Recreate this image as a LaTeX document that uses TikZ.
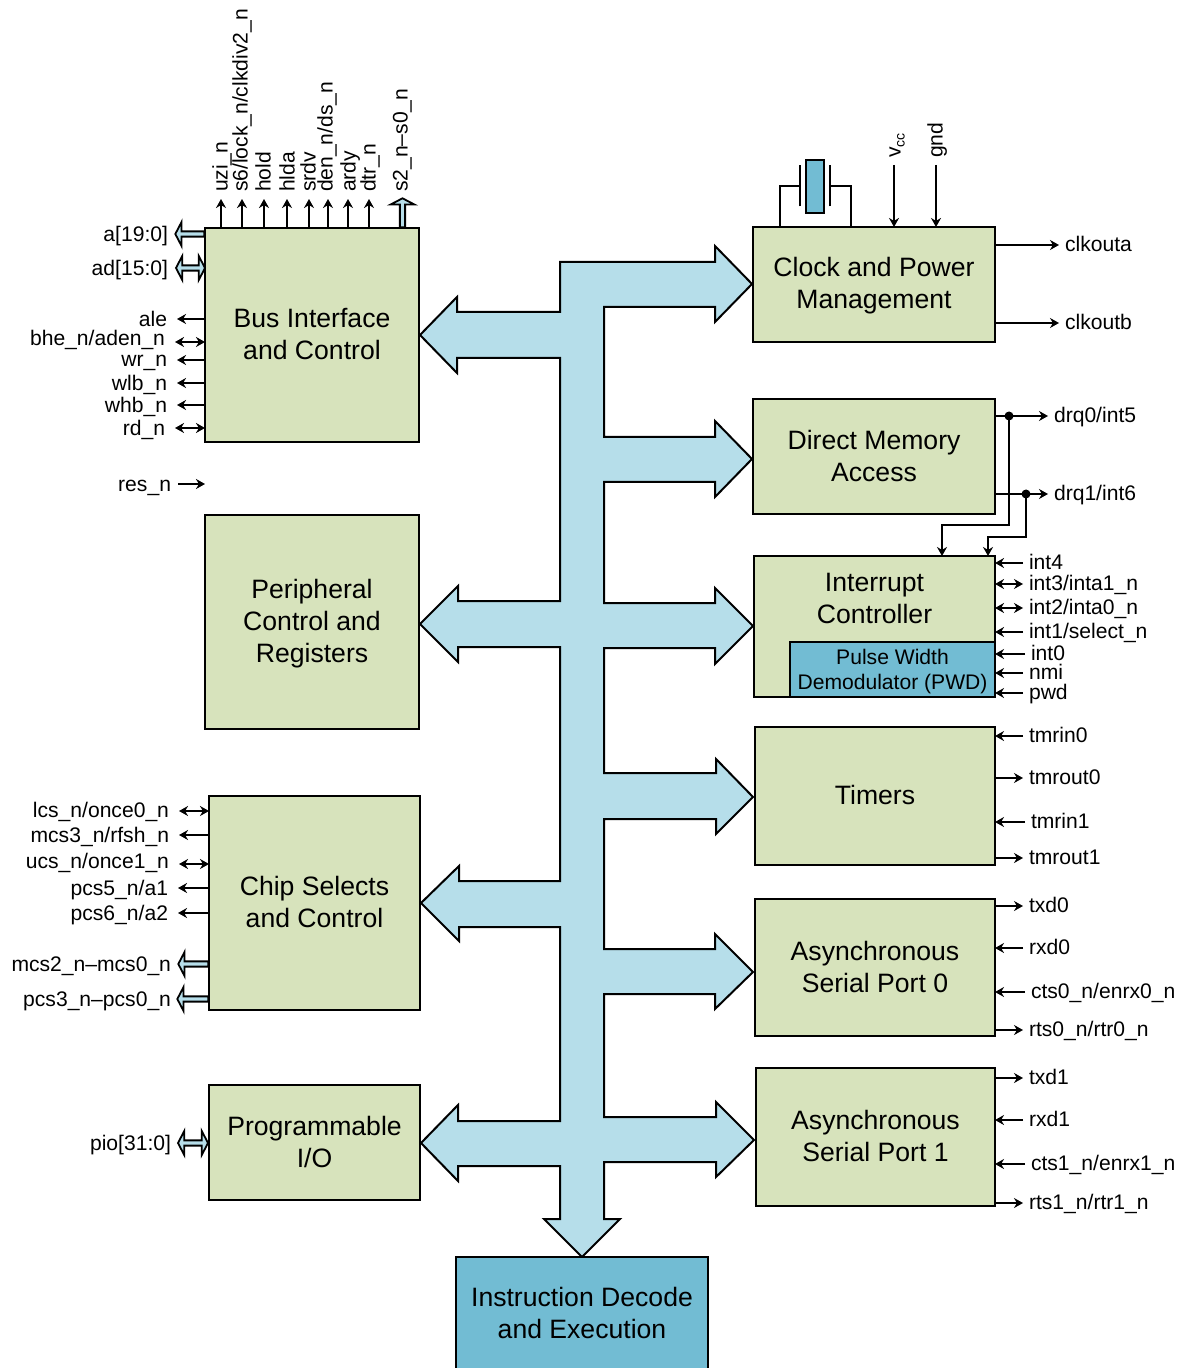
\documentclass[tikz,border=0pt]{standalone}
\usepackage{fontspec}
\setmainfont{Liberation Sans}
\usetikzlibrary{arrows.meta,shapes.arrows}
\definecolor{blockgreen}{HTML}{D7E3BC}
\definecolor{buslight}{HTML}{B6DEEA}
\definecolor{blockteal}{HTML}{72BCD3}
\tikzset{
  >={Stealth[length=4.5pt,width=5pt]},
  block/.style={draw,fill=blockgreen,line width=1pt,align=center,inner sep=0pt,outer sep=0pt,font=\fontsize{13.3}{16}\selectfont},
  tealblock/.style={block,fill=blockteal},
  blocktext/.style={font=\fontsize{13.3}{16}\selectfont,align=center,inner sep=0pt},
  signame/.style={font=\fontsize{10.55}{12.5}\selectfont,inner ysep=0pt,outer sep=0pt,text height=6.5pt,text depth=0pt},
  sigleft/.style={signame,anchor=east,inner xsep=5pt,text height=7.5pt},
  sigright/.style={signame,anchor=west,inner xsep=3pt},
  sigup/.style={signame,anchor=west,rotate=90,inner xsep=3.5pt},
  wiredot/.style={circle,fill=black,inner sep=0pt,minimum size=4.5pt},
  busleft/.style={single arrow,draw,fill=buslight,line width=0.9pt,inner sep=0pt,outer sep=0pt,minimum width=12pt,single arrow head extend=1.6pt,single arrow tip angle=125,shape border rotate=180},
  busup/.style={busleft,shape border rotate=90},
  busboth/.style={double arrow,draw,fill=buslight,line width=0.9pt,inner sep=0pt,outer sep=0pt,minimum width=12pt,double arrow head extend=1.6pt,double arrow tip angle=125}
}
\begin{document}
\begin{tikzpicture}[x=0.5pt,y=-0.5pt,line width=0.85pt]
\useasboundingbox (0,0) rectangle (1180,1368);
\draw[fill=buslight,line width=1pt,line join=miter] (560,262) -- (715,262) -- (715,246) -- (752,284) -- (715,322) -- (715,307) -- (604,307) -- (604,437) -- (715,437) -- (715,421) -- (752,459) -- (715,497) -- (715,482) -- (604,482) -- (604,603) -- (715,603) -- (715,588) -- (753,626) -- (715,664) -- (715,648) -- (604,648) -- (604,773) -- (716,773) -- (716,759) -- (753,797) -- (716,834) -- (716,819) -- (604,819) -- (604,949) -- (715,949) -- (715,934) -- (753,972) -- (715,1009) -- (715,994) -- (604,994) -- (604,1117) -- (716,1117) -- (716,1102) -- (754,1140) -- (716,1177) -- (716,1162) -- (604,1162) -- (604,1219) -- (620,1219) -- (582,1257) -- (544,1219) -- (560,1219) -- (560,1166) -- (458,1166) -- (458,1181) -- (421,1143) -- (458,1105) -- (458,1121) -- (560,1121) -- (560,927) -- (459,927) -- (459,941) -- (421,903) -- (459,866) -- (459,881) -- (560,881) -- (560,647) -- (458,647) -- (458,662) -- (420,624) -- (458,586) -- (458,601) -- (560,601) -- (560,358) -- (457,358) -- (457,373) -- (420,335) -- (457,297) -- (457,312) -- (560,312) -- cycle;

\node[block,minimum width=107pt,minimum height=107pt] (busctl) at (312,335) {};
\node[blocktext] (bustext) at (312,334) {Bus Interface\\and Control};
\node[block,minimum width=107pt,minimum height=107pt] (periph) at (312,622) {};
\node[blocktext] (periphtext) at (312,624) {Peripheral\\Control and\\Registers};
\node[block,minimum width=105.5pt,minimum height=107pt] (chipsel) at (314.5,903) {};
\node[blocktext] (chiptext) at (314.5,902) {Chip Selects\\and Control};
\node[block,minimum width=105.5pt,minimum height=57.5pt] (progio) at (314.5,1142.5) {};
\node[blocktext] (progtext) at (314.5,1141.5) {Programmable\\I/O};
\node[block,minimum width=121pt,minimum height=57.5pt] (clockpm) at (874,284.5) {};
\node[blocktext] (clocktext) at (874,286) {Clock and Power\\Management};
\node[block,minimum width=121pt,minimum height=57.5pt] (dma) at (874,456.5) {};
\node[blocktext] (dmatext) at (874,456) {Direct Memory\\Access};
\node[block,minimum width=120.5pt,minimum height=70.5pt] (intc) at (874.5,626.5) {};
\node[blocktext] (intctext) at (874.5,598) {Interrupt\\Controller};
\node[tealblock,minimum width=102.5pt,minimum height=27.5pt] (pwdemod) at (892.5,669.5) {};
\node[font=\fontsize{10.55}{12.5}\selectfont,align=center,inner sep=0pt] (pwdtext) at (892.5,671.5) {Pulse Width\\Demodulator (PWD)};
\node[block,minimum width=120pt,minimum height=69pt] (timers) at (875,796) {};
\node[blocktext] (timertext) at (875,795) {Timers};
\node[block,minimum width=120pt,minimum height=68.5pt] (serial0) at (875,967.5) {};
\node[blocktext] (serial0text) at (875,967) {Asynchronous\\Serial Port 0};
\node[block,minimum width=119.5pt,minimum height=69pt] (serial1) at (875.5,1137) {};
\node[blocktext] (serial1text) at (875.5,1136) {Asynchronous\\Serial Port 1};
\node[tealblock,minimum width=126pt,minimum height=56.5pt] (idecode) at (582,1313.5) {};
\node[blocktext] (idecodetext) at (582,1313) {Instruction Decode\\and Execution};

\node[busleft,minimum height=14.5pt] (a19bus) at (190.5,234) {};
\node[busboth,minimum height=14.5pt] (ad15bus) at (190.5,268) {};
\node[busup,minimum height=14.5pt] (s2bus) at (402.5,213.5) {};
\node[busleft,minimum height=15pt] (mcs2bus) at (194,964) {};
\node[busleft,minimum height=15.5pt] (pcs3bus) at (193.5,999) {};
\node[busboth,minimum height=15pt] (piobus) at (193,1143) {};

\node[sigleft] at (178,234) {a[19:0]};
\node[sigleft] at (178,268) {ad[15:0]};
\node[sigup] at (401,199) {s2\_n–s0\_n};
\node[sigleft] at (181,964) {mcs2\_n–mcs0\_n};
\node[sigleft] at (181,999) {pcs3\_n–pcs0\_n};
\node[sigleft] at (181,1143) {pio[31:0]};

\node[sigup] (uzi) at (221,199) {uzi\_n};
\node[sigup] (lock) at (241,199) {s6/lock\_n/clkdiv2\_n};
\node[sigup] (hold) at (264,199) {hold};
\node[sigup] (hlda) at (288,199) {hlda};
\node[sigup] (srdv) at (309,199) {srdv};
\node[sigup] (den) at (326,199) {den\_n/ds\_n};
\node[sigup] (ardy) at (349,199) {ardy};
\node[sigup] (dtr) at (369,199) {dtr\_n};
\draw[->] (busctl.north -| uzi) -- (uzi);
\draw[->] ([xshift=0.5pt]busctl.north -| lock) -- ([xshift=0.5pt]lock.west);
\draw[->] (busctl.north -| hold) -- (hold);
\draw[->] ([xshift=-0.5pt]busctl.north -| hlda) -- ([xshift=-0.5pt]hlda.west);
\draw[->] (busctl.north -| srdv) -- (srdv);
\draw[->] ([xshift=1pt]busctl.north -| den) -- ([xshift=1pt]den.west);
\draw[->] ([xshift=-0.5pt]busctl.north -| ardy) -- ([xshift=-0.5pt]ardy.west);
\draw[->] (busctl.north -| dtr) -- (dtr);

\node[sigleft] (ale) at (177,319) {ale};
\node[sigleft] (bhe) at (175,338) {bhe\_n/aden\_n};
\node[sigleft] (wr) at (177,359) {wr\_n};
\node[sigleft] (wlb) at (177,383) {wlb\_n};
\node[sigleft] (whb) at (177,405) {whb\_n};
\node[sigleft] (rd) at (175,428) {rd\_n};
\node[sigleft,inner xsep=3.5pt] (res) at (178,484) {res\_n};
\coordinate (resend) at (205,484);
\draw[->] (busctl.west |- ale) -- (ale);
\draw[<->] ([yshift=-2pt]bhe.east) -- ([yshift=-2pt]busctl.west |- bhe);
\draw[->] ([yshift=-0.5pt]busctl.west |- wr) -- ([yshift=-0.5pt]wr.east);
\draw[->] (busctl.west |- wlb) -- (wlb);
\draw[->] (busctl.west |- whb) -- (whb);
\draw[<->] (busctl.west |- rd) -- (rd);
\draw[->] (res) -- (resend);

\node[sigleft] (lcs) at (179,810) {lcs\_n/once0\_n};
\node[sigleft] (mcs3) at (179,835) {mcs3\_n/rfsh\_n};
\node[sigleft] (ucs) at (179,861) {ucs\_n/once1\_n};
\node[sigleft] (pcs5) at (178,888) {pcs5\_n/a1};
\node[sigleft] (pcs6) at (178,913) {pcs6\_n/a2};
\draw[<->] ([yshift=-0.5pt]chipsel.west |- lcs) -- ([yshift=-0.5pt]lcs.east);
\draw[->] (chipsel.west |- mcs3) -- (mcs3);
\draw[<->] ([yshift=-1.5pt]ucs.east) -- ([yshift=-1.5pt]chipsel.west |- ucs);
\draw[->] (chipsel.west |- pcs5) -- (pcs5);
\draw[->] (chipsel.west |- pcs6) -- (pcs6);

\node[tealblock,minimum width=9pt,minimum height=26.5pt,line width=0.9pt] (crystal) at (815,186.5) {};
\coordinate (platel) at (800,186);
\coordinate (plater) at (830,186);
\coordinate (pinl) at (780,227);
\coordinate (pinr) at (851,227);
\draw (pinl) |- (platel);
\draw (pinr) |- (plater);
\draw ([yshift=-10.25pt]platel) -- ([yshift=10.25pt]platel);
\draw ([yshift=-10.25pt]plater) -- ([yshift=10.25pt]plater);

\node[sigup] (vcc) at (894,165) {v\raisebox{-2pt}{\fontsize{7}{7}\selectfont cc}};
\node[sigup] (gnd) at (936,165) {gnd};
\draw[->] (vcc) -- (clockpm.north -| vcc);
\draw[->] (gnd) -- (clockpm.north -| gnd);

\node[sigright] (clka) at (1059,245) {clkouta};
\node[sigright] (clkb) at (1059,323) {clkoutb};
\draw[->] (clockpm.east |- clka) -- (clka);
\draw[->] (clockpm.east |- clkb) -- (clkb);

\node[sigright] (drq0) at (1048,416) {drq0/int5};
\node[sigright] (drq1) at (1048,494) {drq1/int6};
\draw[->] (dma.east |- drq0) -- (drq0);
\draw[->] (dma.east |- drq1) -- (drq1);
\node[wiredot] (dot0) at (1009,416) {};
\node[wiredot] (dot1) at (1026,494) {};
\coordinate (bend0) at (942,525);
\coordinate (bend1) at (988,537);
\draw[->] (dot0.center) |- (bend0) -- (intc.north -| bend0);
\draw[->] (dot1.center) |- (bend1) -- (intc.north -| bend1);

\node[sigright] (int4) at (1023,563) {int4};
\node[sigright] (int3) at (1023,584) {int3/inta1\_n};
\node[sigright] (int2) at (1023,608) {int2/inta0\_n};
\node[sigright] (int1) at (1023,632) {int1/select\_n};
\node[sigright] (int0) at (1025,654) {int0};
\node[sigright] (nmi) at (1023,673) {nmi};
\node[sigright] (pwd) at (1023,693) {pwd};
\draw[->] (int4) -- (intc.east |- int4);
\draw[<->] (int3) -- (intc.east |- int3);
\draw[<->] (int2) -- (intc.east |- int2);
\draw[->] (int1) -- (intc.east |- int1);
\draw[->] (int0) -- (intc.east |- int0);
\draw[->] (nmi) -- (intc.east |- nmi);
\draw[->] (pwd) -- (intc.east |- pwd);

\node[sigright] (tmrin0) at (1023,736) {tmrin0};
\node[sigright] (tmrout0) at (1023,778) {tmrout0};
\node[sigright] (tmrin1) at (1025,822) {tmrin1};
\node[sigright] (tmrout1) at (1023,858) {tmrout1};
\draw[->] (tmrin0) -- (timers.east |- tmrin0);
\draw[->] (timers.east |- tmrout0) -- (tmrout0);
\draw[->] (tmrin1) -- (timers.east |- tmrin1);
\draw[->] (timers.east |- tmrout1) -- (tmrout1);

\node[sigright] (txd0) at (1023,906) {txd0};
\node[sigright] (rxd0) at (1023,948) {rxd0};
\node[sigright] (cts0) at (1025,992) {cts0\_n/enrx0\_n};
\node[sigright] (rts0) at (1023,1030) {rts0\_n/rtr0\_n};
\draw[->] (serial0.east |- txd0) -- (txd0);
\draw[->] (rxd0) -- (serial0.east |- rxd0);
\draw[->] (cts0) -- (serial0.east |- cts0);
\draw[->] (serial0.east |- rts0) -- (rts0);

\node[sigright] (txd1) at (1023,1078) {txd1};
\node[sigright] (rxd1) at (1023,1120) {rxd1};
\node[sigright] (cts1) at (1025,1164) {cts1\_n/enrx1\_n};
\node[sigright] (rts1) at (1023,1203) {rts1\_n/rtr1\_n};
\draw[->] (serial1.east |- txd1) -- (txd1);
\draw[->] (rxd1) -- (serial1.east |- rxd1);
\draw[->] (cts1) -- (serial1.east |- cts1);
\draw[->] (serial1.east |- rts1) -- (rts1);
\end{tikzpicture}
\end{document}
